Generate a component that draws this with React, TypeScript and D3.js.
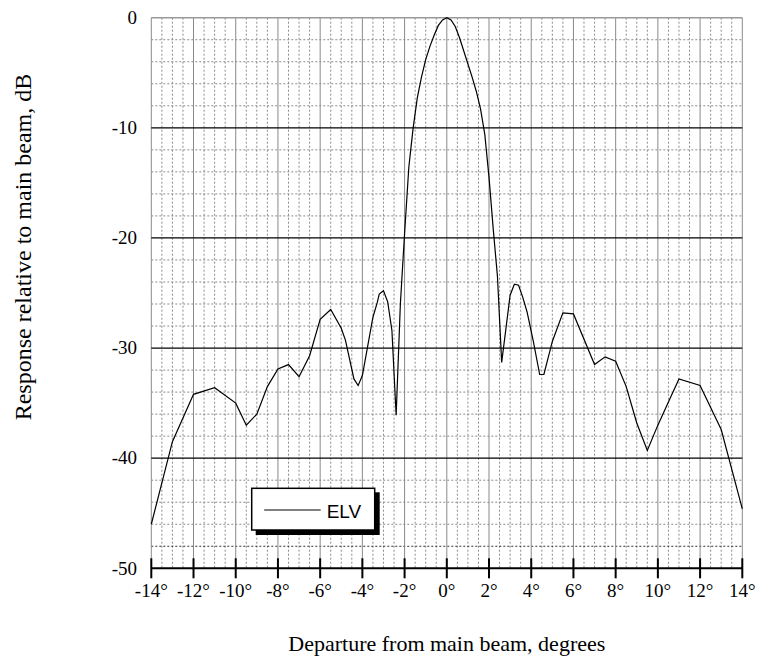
import React from "react";
import * as d3 from "d3";

const angles = [
  -14, -13, -12, -11, -10, -9.5, -9, -8.5, -8, -7.5, -7, -6.5, -6, -5.5, -5, -4.8, -4.4, -4.2, -4.0,
  -3.5, -3.3, -3.2, -3.0, -2.8, -2.6, -2.4, -2.2, -2.0, -1.8, -1.6, -1.4, -1.2, -1.0, -0.8, -0.6,
  -0.4, -0.2, 0, 0.2, 0.4, 0.6, 0.8, 1.0, 1.2, 1.4, 1.6, 1.8, 2.0, 2.2, 2.4, 2.6, 3.0, 3.2, 3.4,
  3.6, 3.8, 4.1, 4.4, 4.6, 5.0, 5.5, 6.0, 7.0, 7.5, 8.0, 8.5, 9.0, 9.5, 10.0, 10.5, 11.0, 12.0,
  13.0, 14.0,
];
const elv = [
  -46.0, -38.5, -34.2, -33.6, -35.0, -37.0, -36.0, -33.5, -31.9, -31.5, -32.6, -30.7, -27.4, -26.5,
  -28.2, -29.3, -32.8, -33.4, -32.5, -27.2, -25.9, -25.1, -24.8, -25.8, -28.4, -36.1, -26.0, -19.6,
  -13.6, -10.1, -7.3, -5.4, -3.8, -2.6, -1.6, -0.7, -0.2, 0, -0.2, -0.8, -1.8, -3.0, -4.2, -5.4,
  -6.7, -8.3, -10.6, -14.5, -19.2, -23.5, -31.3, -25.2, -24.2, -24.3, -25.4, -26.7, -29.4, -32.4,
  -32.4, -29.4, -26.8, -26.9, -31.5, -30.8, -31.2, -33.5, -36.8, -39.3, -37.0, -34.9, -32.8, -33.4,
  -37.4, -44.6,
];
const xTicks = [-14, -12, -10, -8, -6, -4, -2, 0, 2, 4, 6, 8, 10, 12, 14];
const yTicks = [0, -10, -20, -30, -40, -50];
const seriesName = "ELV";
const xTitle = "Departure from main beam, degrees";
const yTitle = "Response relative to main beam, dB";

export default function App() {
  const W = 757;
  const H = 669;
  const x = d3.scaleLinear().domain([-14, 14]).range([151.3, 742.3]);
  const y = d3.scaleLinear().domain([-50, 0]).range([568.3, 17.7]);
  const minorX = d3.range(-14, 14.01, 0.5).filter((v) => Math.abs(v % 2) > 0.01);
  const minorY = d3.range(-48, 0, 2).filter((v) => v % 10 !== 0);
  const majorY = [-10, -20, -30, -40];
  const pts = angles.map((a, i) => [a, elv[i]] as [number, number]);
  const line = d3
    .line<[number, number]>()
    .x((d) => x(d[0]))
    .y((d) => y(d[1]));
  const serif = "'Liberation Serif', 'Times New Roman', serif";
  const lx = 251.7;
  const ly = 488.3;
  const lw = 123;
  const lh = 41.7;
  return (
    <svg
      width={W}
      height={H}
      style={{ position: "absolute", left: 0, top: 0, background: "#fff" }}
    >
      <rect x={0} y={0} width={W} height={H} fill="#fff" />
      {minorX.map((v) => (
        <line
          key={"mx" + v}
          x1={x(v)}
          x2={x(v)}
          y1={y(0)}
          y2={y(-50)}
          stroke="#8a8a8a"
          strokeWidth={1}
          strokeDasharray="2,2"
        />
      ))}
      {minorY.map((v) => (
        <line
          key={"my" + v}
          x1={x(-14)}
          x2={x(14)}
          y1={y(v)}
          y2={y(v)}
          stroke={v === -48 ? "#333" : "#8a8a8a"}
          strokeWidth={1}
          strokeDasharray="2,2"
        />
      ))}
      {xTicks.map((v) => (
        <line
          key={"vx" + v}
          x1={x(v)}
          x2={x(v)}
          y1={y(0)}
          y2={y(-50)}
          stroke="#8a8a8a"
          strokeWidth={1}
        />
      ))}
      <line x1={x(-14)} x2={x(14)} y1={y(0)} y2={y(0)} stroke="#999" strokeWidth={1.5} />
      {majorY.map((v) => (
        <line
          key={"jy" + v}
          x1={x(-14)}
          x2={x(14)}
          y1={y(v)}
          y2={y(v)}
          stroke="#000"
          strokeWidth={1.2}
        />
      ))}
      <path d={line(pts) || ""} fill="none" stroke="#000" strokeWidth={1.2} />
      <line x1={x(-14)} x2={x(14)} y1={y(-50)} y2={y(-50)} stroke="#000" strokeWidth={2} />
      {xTicks.map((v) => (
        <line
          key={"tx" + v}
          x1={x(v)}
          x2={x(v)}
          y1={y(-50) - 10}
          y2={y(-50) + 10}
          stroke="#000"
          strokeWidth={2}
        />
      ))}
      {xTicks.map((v) => (
        <text
          key={"lx" + v}
          x={x(v)}
          y={597}
          textAnchor="middle"
          fontFamily={serif}
          fontSize={19}
          fill="#000"
        >
          {v + "°"}
        </text>
      ))}
      {yTicks.map((v) => (
        <text
          key={"ly" + v}
          x={137}
          y={y(v)}
          dy="0.33em"
          textAnchor="end"
          fontFamily={serif}
          fontSize={19}
          fill="#000"
        >
          {v}
        </text>
      ))}
      <text
        x={446.8}
        y={651}
        textAnchor="middle"
        fontFamily={serif}
        fontSize={22}
        fill="#000"
      >
        {xTitle}
      </text>
      <text
        transform={`translate(31,247) rotate(-90)`}
        textAnchor="middle"
        fontFamily={serif}
        fontSize={24}
        fill="#000"
      >
        {yTitle}
      </text>
      <rect x={lx + 4} y={ly + 4} width={lw + 1} height={lh + 1} fill="#000" />
      <rect
        x={lx}
        y={ly}
        width={lw}
        height={lh}
        fill="#fff"
        stroke="#000"
        strokeWidth={1.5}
      />
      <line x1={lx + 12.5} x2={lx + 69} y1={ly + 21.7} y2={ly + 21.7} stroke="#000" strokeWidth={1} />
      <text
        x={lx + 75}
        y={ly + 29.5}
        fontFamily="'Liberation Sans', Arial, sans-serif"
        fontSize={19}
        fill="#000"
      >
        {seriesName}
      </text>
    </svg>
  );
}
